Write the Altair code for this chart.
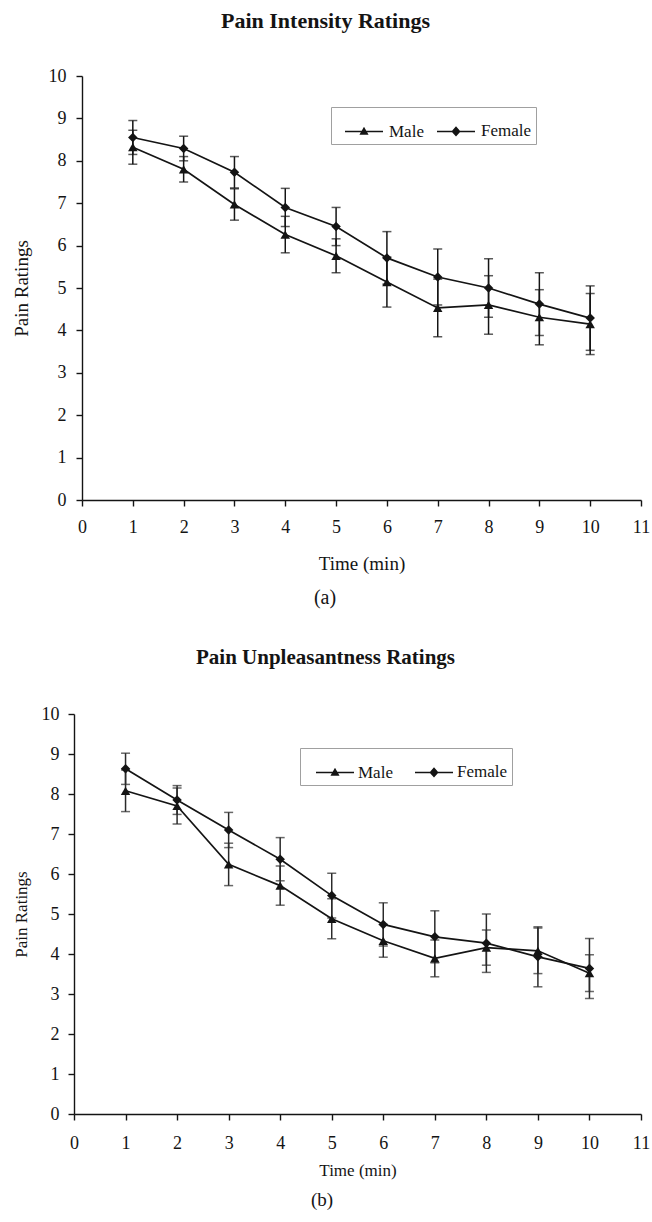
import altair as alt
import pandas as pd

# ---------------- data ----------------
TIME = list(range(1, 11))
SEXES = ["Male", "Female"]
X_TICKS = list(range(0, 12))
Y_TICKS = list(range(0, 11))

# (a) Pain Intensity Ratings
A_MALE = [8.32, 7.80, 6.97, 6.26, 5.76, 5.14, 4.53, 4.60, 4.31, 4.15]
A_MALE_ERR = [0.40, 0.30, 0.37, 0.43, 0.40, 0.59, 0.68, 0.69, 0.65, 0.72]
A_FEMALE = [8.55, 8.29, 7.73, 6.90, 6.45, 5.71, 5.26, 5.00, 4.62, 4.29]
A_FEMALE_ERR = [0.40, 0.29, 0.37, 0.45, 0.45, 0.62, 0.66, 0.69, 0.74, 0.76]

# (b) Pain Unpleasantness Ratings
B_MALE = [8.08, 7.70, 6.24, 5.71, 4.88, 4.33, 3.89, 4.16, 4.08, 3.52]
B_MALE_ERR = [0.52, 0.45, 0.53, 0.49, 0.50, 0.41, 0.46, 0.44, 0.57, 0.46]
B_FEMALE = [8.63, 7.85, 7.10, 6.37, 5.46, 4.74, 4.43, 4.27, 3.93, 3.64]
B_FEMALE_ERR = [0.39, 0.36, 0.44, 0.54, 0.56, 0.54, 0.65, 0.73, 0.75, 0.75]

FONT = "Liberation Serif"
INK = "#141414"

# legend glyphs (filled outlines): a thin bar with a marker in the middle
M_PATH = ("M-1,-0.04L1,-0.04L1,0.04L-1,0.04Z"
          "M0,-0.25L0.24,0.17L-0.24,0.17Z")
F_PATH = ("M-1,-0.04L1,-0.04L1,0.04L-1,0.04Z"
          "M0,-0.27L0.24,0L0,0.27L-0.24,0Z")


def long_df(male, male_err, female, female_err):
    rows = []
    for sex, vals, errs in (("Male", male, male_err), ("Female", female, female_err)):
        for t, v, e in zip(TIME, vals, errs):
            rows.append({"time": t, "sex": sex, "value": v,
                         "lo": round(v - e, 3), "hi": round(v + e, 3)})
    return pd.DataFrame(rows)


def panel(df, title, caption, c):
    xaxis = alt.Axis(values=X_TICKS, format="d", grid=False, tickSize=6,
                     labelFlush=False, labelFont=FONT, labelFontSize=c["tick_fs"],
                     labelPadding=c["xlabpad"], labelBaseline="middle",
                     titleFont=FONT, titleFontSize=c["xtitle_fs"],
                     titleY=c["xtitleY"], titleBaseline="middle")
    yaxis = alt.Axis(values=Y_TICKS, format="d", grid=False, tickSize=6,
                     labelFlush=False, offset=c["yoff"], labelFont=FONT,
                     labelFontSize=c["tick_fs"], labelPadding=c["ylabpad"],
                     titleFont=FONT, titleFontSize=c["ytitle_fs"],
                     titleX=c["ytitleX"], titleBaseline="middle")
    xs = alt.Scale(domain=[0, 11], range=c["xrange"], nice=False, zero=False)
    ys = alt.Scale(domain=[0, 10], nice=False)

    def X():
        return alt.X("time:Q", title="Time (min)", scale=xs, axis=xaxis)

    def Y(field):
        return alt.Y(f"{field}:Q", title="Pain Ratings", scale=ys, axis=yaxis)

    base = alt.Chart(df)
    bars = base.mark_rule(color=c["err"], strokeWidth=1.5).encode(
        x=X(), y=Y("lo"), y2="hi:Q")
    cap_hi = base.mark_tick(orient="horizontal", size=9, thickness=1.5,
                            color=c["err"]).encode(x=X(), y=Y("hi"))
    cap_lo = base.mark_tick(orient="horizontal", size=9, thickness=1.5,
                            color=c["err"]).encode(x=X(), y=Y("lo"))
    lines = base.mark_line(color=INK, strokeWidth=1.7).encode(
        x=X(), y=Y("value"), detail="sex:N")
    pts = base.mark_point(filled=True, color=INK, opacity=1, size=90).encode(
        x=X(), y=Y("value"),
        shape=alt.Shape("sex:N", scale=alt.Scale(domain=SEXES,
                        range=["triangle-up", "diamond"]), legend=None))
    leg = base.transform_filter("datum.time < 0").mark_point(
        filled=True, color=INK, opacity=1).encode(
        x=X(), y=Y("value"),
        shape=alt.Shape("sex:N", scale=alt.Scale(domain=SEXES, range=[M_PATH, F_PATH]),
                        legend=alt.Legend(
                            title=None, orient="none", direction="horizontal",
                            legendX=c["legX"], legendY=c["legY"],
                            symbolSize=1444, symbolFillColor=INK,
                            symbolOpacity=1, symbolOffset=c["symoff"],
                            labelFont=FONT, labelFontSize=c["leg_fs"],
                            labelColor=INK, labelOffset=c["laboff"],
                            columnPadding=c["legcol"], padding=4,
                            strokeColor="#a0a0a0", fillColor="white")))
    cap = alt.Chart(pd.DataFrame({"c": [caption]})).mark_text(
        font=FONT, fontSize=c["cap_fs"], color=INK, baseline="middle").encode(
        text="c:N", x=alt.value(c["capX"]), y=alt.value(c["capY"]))

    return alt.layer(bars, cap_hi, cap_lo, lines, pts, leg, cap).resolve_scale(
        shape="independent").properties(
        width=c["w"], height=c["h"],
        title=alt.TitleParams(title, anchor="middle", dx=c["tdx"], offset=c["toff"],
                              font=FONT, fontSize=c["title_fs"], fontWeight="bold",
                              color=INK))


cfg_a = dict(w=567, h=424, xrange=[8, 567], yoff=-8, tick_fs=18, xlabpad=21,
             xtitle_fs=19, xtitleY=63, ylabpad=10, ytitle_fs=19, ytitleX=-61,
             legX=257, legY=31, symoff=9, laboff=5, leg_fs=17, legcol=3,
             cap_fs=20, capX=251, capY=522, tdx=-32, toff=34, title_fs=22,
             err=INK)
cfg_b = dict(w=567, h=400, xrange=[0, 567], yoff=0, tick_fs=18, xlabpad=23,
             xtitle_fs=17, xtitleY=56, ylabpad=9, ytitle_fs=17, ytitleX=-53,
             legX=226, legY=34, symoff=11, laboff=3, leg_fs=17, legcol=10,
             cap_fs=19, capX=248, capY=486, tdx=-32, toff=37, title_fs=21,
             err="#2a2a2a")

pa = panel(long_df(A_MALE, A_MALE_ERR, A_FEMALE, A_FEMALE_ERR),
           "Pain Intensity Ratings", "(a)", cfg_a)
pb = panel(long_df(B_MALE, B_MALE_ERR, B_FEMALE, B_FEMALE_ERR),
           "Pain Unpleasantness Ratings", "(b)", cfg_b)

chart = alt.vconcat(pa, pb, spacing=214, bounds="flush").properties(
    padding={"left": 12, "top": 10, "right": 0, "bottom": 0},
    background="white"
).configure_view(stroke=None).configure_axis(
    domainColor=INK, tickColor=INK, domainWidth=1.4, tickWidth=1.4,
    labelFont=FONT, titleFont=FONT, labelColor=INK, titleColor=INK,
    titleFontWeight="normal"
).configure_legend(labelFont=FONT)

chart.save("out.html", embed_options={"renderer": "svg", "actions": False})
